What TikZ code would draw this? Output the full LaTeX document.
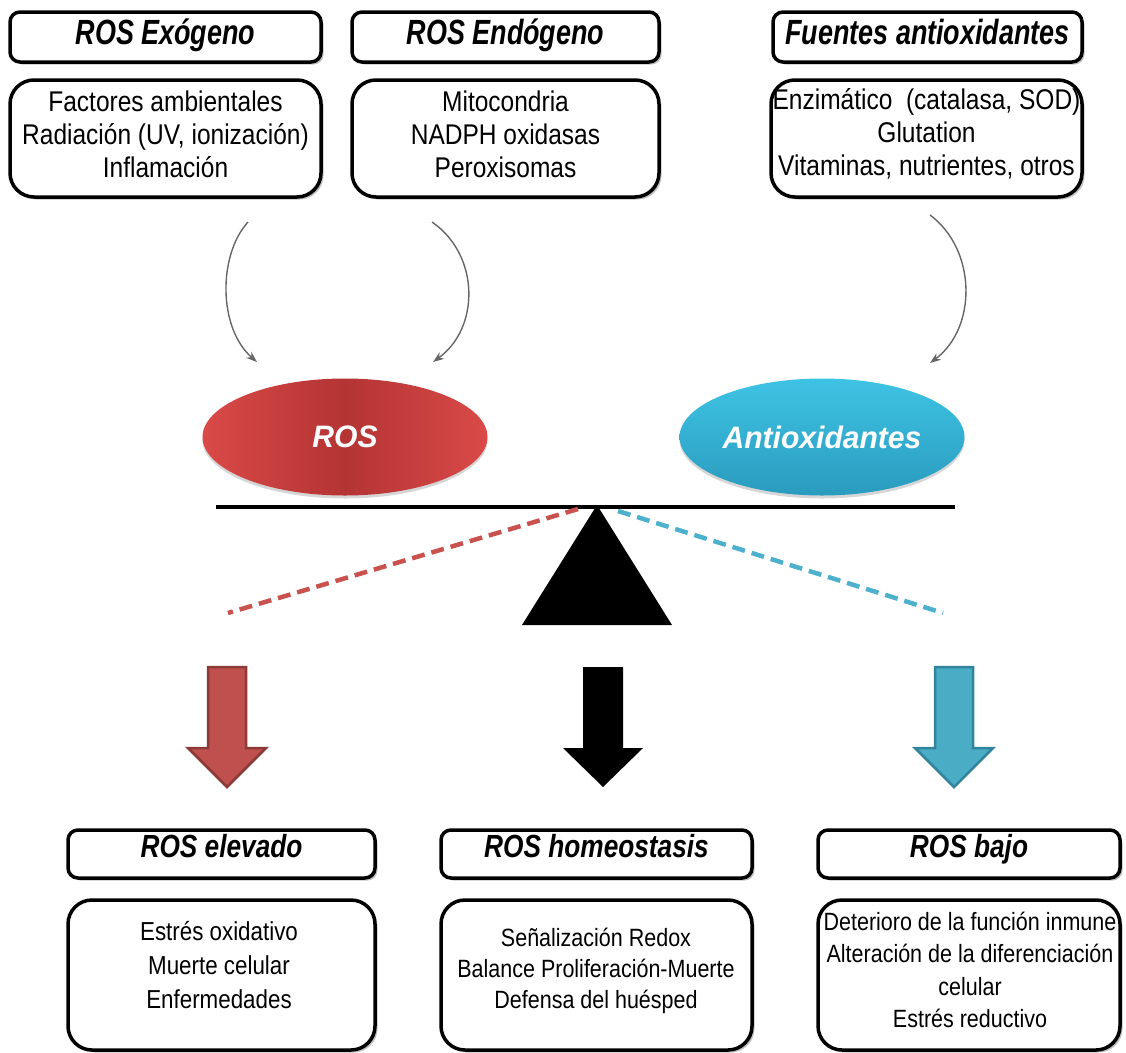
\documentclass[tikz,border=0pt]{standalone}
\usepackage{fontspec}
\setmainfont[FakeStretch=0.86]{Liberation Sans}
\newfontfamily\headfont[FakeStretch=0.77]{Liberation Sans}
\newfontfamily\lowheadfont[FakeStretch=0.82]{Liberation Sans}
\newfontfamily\ovalfont[FakeStretch=0.97]{Liberation Sans}
\usetikzlibrary{shapes.geometric,shadows,arrows.meta}

\definecolor{rosedge}{HTML}{D94A48}
\definecolor{roscore}{HTML}{B43434}
\definecolor{antitop}{HTML}{3EC3E4}
\definecolor{antibot}{HTML}{2A9BBE}
\definecolor{redline}{HTML}{C9524F}
\definecolor{blueline}{HTML}{4DB0CC}
\definecolor{redfill}{HTML}{C0504D}
\definecolor{redrim}{HTML}{8C3A38}
\definecolor{bluefill}{HTML}{4BACC6}
\definecolor{bluerim}{HTML}{31849B}

\begin{document}
\begin{tikzpicture}[x=1pt,y=-1pt,
  boxshadow/.style={drop shadow={shadow xshift=2.5pt,shadow yshift=-2.5pt,fill=black!45,opacity=0.55}},
  headbox/.style={draw,line width=3.5pt,rounded corners=10pt,fill=white,inner sep=0pt,boxshadow},
  bodybox/.style={draw,line width=3.5pt,rounded corners=24pt,fill=white,inner sep=0pt,boxshadow},
  headtext/.style={anchor=base,inner sep=0pt,font=\headfont\fontsize{35}{40}\selectfont\bfseries\itshape},
  lowheadtext/.style={anchor=base,inner sep=0pt,font=\lowheadfont\fontsize{32}{38}\selectfont\bfseries\itshape},
  bodytext/.style={align=center,inner sep=0pt},
  oval/.style={ellipse,inner sep=0pt,minimum width=285pt,minimum height=117pt,
    drop shadow={shadow xshift=0pt,shadow yshift=-3pt,fill=black!40,opacity=0.4},
    text=white,font=\ovalfont\fontsize{31}{36}\selectfont\bfseries\itshape},
  flow/.style={draw=black!60,line width=1.4pt,-{Stealth[length=11pt,width=8pt]}},
  tilt/.style={line width=4.5pt,dash pattern=on 13pt off 7pt}
]
\useasboundingbox (0,0) rectangle (1126,1052);

% ---- sources of ROS and antioxidants ----
\node[headbox,minimum width=311pt,minimum height=50pt] (exoH) at (165.5,37) {};
\node[headbox,minimum width=307pt,minimum height=50pt] (endoH) at (505.5,37) {};
\node[headbox,minimum width=309pt,minimum height=50pt] (srcH) at (927.5,37) {};
\node[headtext] (exoT) at (165.5,44) {ROS Exógeno};
\node[headtext] (endoT) at (505.5,44) {ROS Endógeno};
\node[headtext] (srcT) at (927.5,44) {Fuentes antioxidantes};

\node[bodybox,minimum width=311pt,minimum height=117pt] (exoB) at (165.5,138.5) {};
\node[bodybox,minimum width=307pt,minimum height=117pt] (endoB) at (505.5,138.5) {};
\node[bodybox,minimum width=311pt,minimum height=117pt] (srcB) at (926.5,138.5) {};
\node[bodytext,font=\fontsize{28.5}{33}\selectfont] (exoL) at (165.5,134)
  {Factores ambientales\\Radiación (UV, ionización)\\Inflamación};
\node[bodytext,font=\fontsize{28.5}{33}\selectfont] (endoL) at (505.5,134)
  {Mitocondria\\NADPH oxidasas\\Peroxisomas};
\node[bodytext,font=\fontsize{28.5}{33}\selectfont] (srcL) at (926.5,134)
  {Enzimático\ \ (catalasa, SOD)\\Glutation\\Vitaminas, nutrientes, otros};

% ---- curved feeds into the two pans ----
\coordinate (f1a) at (248,222); \coordinate (f1b) at (257,362);
\coordinate (f2a) at (432,222); \coordinate (f2b) at (433,362);
\coordinate (f3a) at (930,215); \coordinate (f3b) at (930,363);
\draw[flow] (f1a) .. controls (218,255) and (218,328) .. (f1b);
\draw[flow] (f2a) .. controls (480,255) and (480,328) .. (f2b);
\draw[flow] (f3a) .. controls (977,250) and (977,328) .. (f3b);

% ---- the balance ----
\node[oval,left color=rosedge,right color=rosedge,middle color=roscore] (ros) at (345,437) {ROS};
\node[oval,top color=antitop,bottom color=antibot] (anti) at (822,437) {Antioxidantes};

\coordinate (beamL) at (216,507); \coordinate (beamR) at (955,507);
\draw[line width=4pt] (beamL) -- (beamR);
\coordinate (pivot) at (597,505);
\fill (522,625) -- (672,625) -- (pivot) -- cycle;

\coordinate (redA) at (578,509); \coordinate (redB) at (228,613);
\coordinate (bluA) at (618,511); \coordinate (bluB) at (943,613);
\draw[tilt,redline] (redA) -- (redB);
\draw[tilt,blueline] (bluA) -- (bluB);

% ---- outcome arrows ----
\filldraw[fill=redfill,draw=redrim,line width=2.5pt,line join=miter]
  (208,667) -- (246,667) -- (246,748) -- (266,748) -- (227,787) -- (188,748) -- (208,748) -- cycle;
\fill[black]
  (583,667) -- (623,667) -- (623,748) -- (643,748) -- (603,787) -- (563,748) -- (583,748) -- cycle;
\filldraw[fill=bluefill,draw=bluerim,line width=2.5pt,line join=miter]
  (935,667) -- (973,667) -- (973,748) -- (993,748) -- (954,787) -- (915,748) -- (935,748) -- cycle;

% ---- outcomes ----
\node[headbox,minimum width=307pt,minimum height=48pt] (hiH) at (221.5,854) {};
\node[headbox,minimum width=311pt,minimum height=48pt] (homH) at (596.5,854) {};
\node[headbox,minimum width=302pt,minimum height=48pt] (loH) at (969,854) {};
\node[lowheadtext] (hiT) at (221.5,857) {ROS elevado};
\node[lowheadtext] (homT) at (596.5,857) {ROS homeostasis};
\node[lowheadtext] (loT) at (969,857) {ROS bajo};

\node[bodybox,minimum width=307pt,minimum height=150pt] (hiB) at (221.5,975) {};
\node[bodybox,minimum width=311pt,minimum height=150pt] (homB) at (596.5,975) {};
\node[bodybox,minimum width=302pt,minimum height=150pt] (loB) at (969,975) {};
\node[bodytext,font=\fontsize{26}{34}\selectfont] (hiL) at (219,965)
  {Estrés oxidativo\\Muerte celular\\Enfermedades};
\node[bodytext,font=\fontsize{25}{31}\selectfont] (homL) at (596,971)
  {Señalización Redox\\Balance Proliferación-Muerte\\Defensa del huésped};
\node[bodytext,font=\fontsize{25}{32.5}\selectfont] (loL) at (970,970)
  {Deterioro de la función inmune\\Alteración de la diferenciación\\celular\\Estrés reductivo};
\end{tikzpicture}
\end{document}
